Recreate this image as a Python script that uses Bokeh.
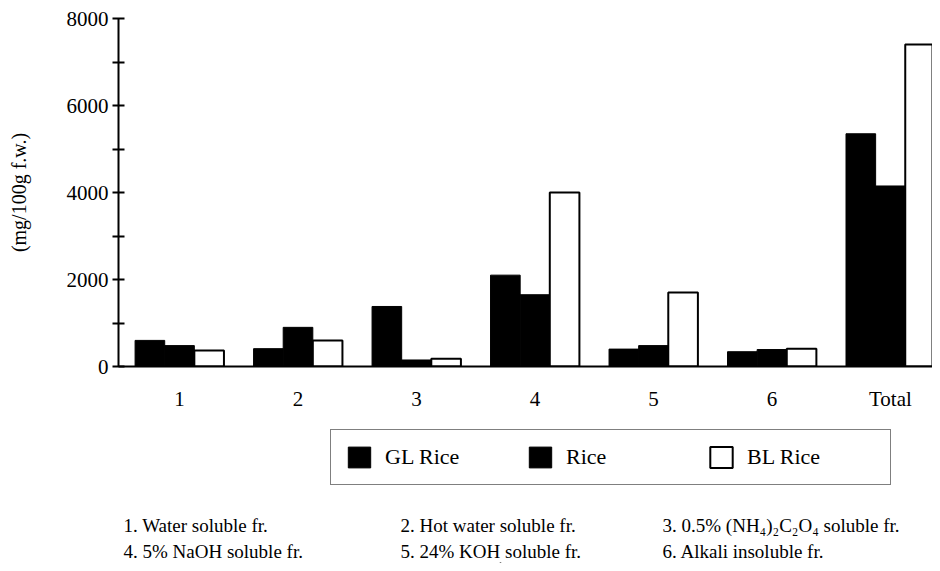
from bokeh.plotting import figure
from bokeh.models import (ColumnDataSource, FixedTicker, Legend, LegendItem, Range1d)
from bokeh.transform import dodge
from bokeh.layouts import column
from bokeh.core.properties import value
from bokeh.embed import file_html
from bokeh.resources import INLINE

# ---- data ----
categories = ["1", "2", "3", "4", "5", "6", "Total"]
gl_rice = [600, 410, 1380, 2100, 400, 340, 5350]
rice = [480, 900, 150, 1650, 480, 390, 4150]
bl_rice = [370, 600, 180, 4000, 1700, 410, 7400]
series_names = ["GL Rice", "Rice", "BL Rice"]
y_major = [0, 2000, 4000, 6000, 8000]
y_minor = [1000, 3000, 5000, 7000]
footnotes = [
    "1. Water soluble fr.",
    "2. Hot water soluble fr.",
    "3. 0.5% (NH\u2084)\u2082C\u2082O\u2084 soluble fr.",
    "4. 5% NaOH soluble fr.",
    "5. 24% KOH soluble fr.",
    "6. Alkali insoluble fr.",
]
y_title = "(mg/100g f.w.)"

FONT = "Liberation Serif"
W = 932
pos = list(range(1, len(categories) + 1))
src = ColumnDataSource(dict(x=pos, gl=gl_rice, rice=rice, bl=bl_rice))

# ---------------- main chart ----------------
p = figure(width=W, height=415, output_backend="svg", toolbar_location=None,
           x_range=Range1d(0.485, 7.355), y_range=Range1d(0, 8000),
           min_border_left=118, min_border_right=0, min_border_top=18,
           min_border_bottom=49)
p.outline_line_color = None
p.xgrid.visible = False
p.ygrid.visible = False

bw = 0.25
p.vbar(x=dodge("x", -0.25), top="gl", width=bw, source=src, fill_color="black",
       line_color="black", line_width=1)
p.vbar(x=dodge("x", 0.0), top="rice", width=bw, source=src, fill_color="black",
       line_color="black", line_width=1)
p.vbar(x=dodge("x", 0.25), top="bl", width=bw, source=src, fill_color="white",
       line_color="black", line_width=2)

xa = p.xaxis[0]
xa.ticker = FixedTicker(ticks=pos)
xa.major_label_overrides = {i: c for i, c in zip(pos, categories)}
xa.axis_line_width = 2
xa.major_tick_line_color = None
xa.minor_tick_line_color = None
xa.major_label_standoff = 14
xa.major_label_text_font = FONT
xa.major_label_text_font_size = "21px"
xa.major_label_text_color = "black"

ya = p.yaxis[0]
ya.ticker = FixedTicker(ticks=y_major, minor_ticks=y_minor)
ya.axis_line_width = 2
ya.major_tick_in = 6
ya.major_tick_out = 6
ya.minor_tick_in = 6
ya.minor_tick_out = 6
ya.major_tick_line_width = 2
ya.minor_tick_line_width = 2
ya.major_label_standoff = 4
ya.major_label_text_font = FONT
ya.major_label_text_font_size = "21px"
ya.major_label_text_color = "black"
ya.axis_label = y_title
ya.axis_label_text_font = FONT
ya.axis_label_text_font_style = "normal"
ya.axis_label_text_font_size = "20px"
ya.axis_label_text_color = "black"
ya.axis_label_standoff = 34

# ---------------- legend + footnotes panel ----------------
H2 = 148
q = figure(width=W, height=H2, output_backend="svg", toolbar_location=None,
           x_range=Range1d(118, 932), y_range=Range1d(0, H2),
           min_border_left=118, min_border_right=0,
           min_border_top=0, min_border_bottom=0)
q.axis.visible = False
q.grid.visible = False
q.outline_line_color = None

# legend key renderers (placed far outside the visible range of this panel)
keysrc = ColumnDataSource(dict(x=[500], top=[-1000], bottom=[-2000]))
k1 = q.vbar(x="x", top="top", bottom="bottom", width=1, source=keysrc,
            fill_color="black", line_color="black")
k2 = q.vbar(x="x", top="top", bottom="bottom", width=1, source=keysrc,
            fill_color="black", line_color="black")
k3 = q.vbar(x="x", top="top", bottom="bottom", width=1, source=keysrc,
            fill_color="white", line_color="black", line_width=2)

legend = Legend(items=[LegendItem(label=series_names[0], renderers=[k1]),
                       LegendItem(label=series_names[1], renderers=[k2]),
                       LegendItem(label=series_names[2], renderers=[k3])],
                orientation="horizontal", location=(212, 78),
                glyph_width=28, glyph_height=26, label_standoff=12,
                label_width=129, spacing=12, padding=14, margin=0,
                label_text_font=FONT, label_text_font_size="22px",
                label_text_color="black",
                border_line_color="black", border_line_width=1.5,
                background_fill_alpha=1.0)
q.add_layout(legend, "center")

fx = [123, 400, 662, 123, 400, 662]
fy = [38, 38, 38, 12, 12, 12]
fsrc = ColumnDataSource(dict(x=fx, y=fy, t=footnotes))
q.text(x="x", y="y", text="t", source=fsrc, text_font=value(FONT),
       text_font_size="19px", text_baseline="alphabetic", text_align="left",
       text_color="black")

layout = column(p, q, spacing=0)
open("out.html", "w").write(file_html(layout, INLINE))
